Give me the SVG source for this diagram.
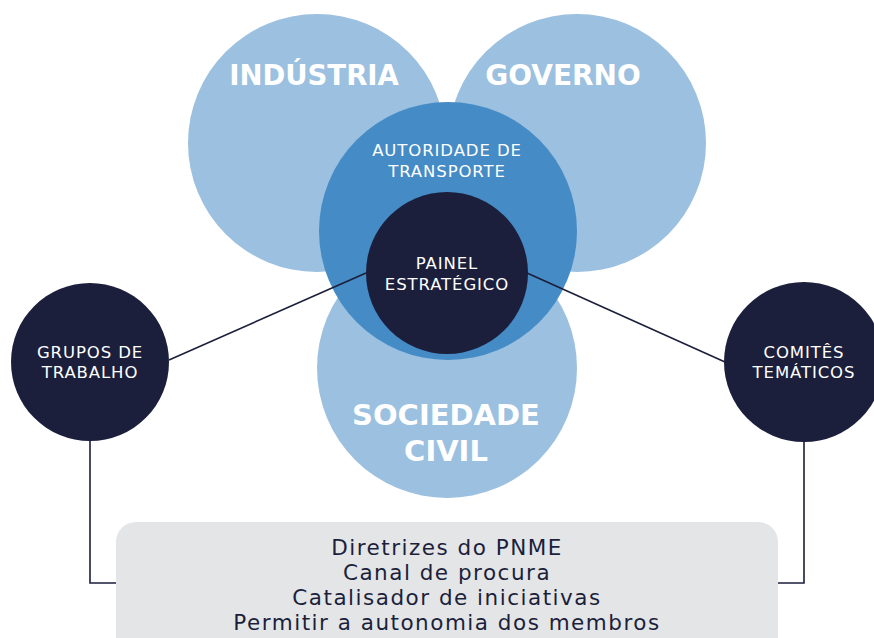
<svg xmlns="http://www.w3.org/2000/svg" width="874" height="638" viewBox="0 0 874 638">
<style>
.light{fill:#9bc0e0}
.mid{fill:#458bc6}
.dark{fill:#1b1f3b}
.h{font-family:"DejaVu Sans","Liberation Sans",sans-serif;font-weight:700;fill:#ffffff;text-anchor:middle}
.t{font-family:"DejaVu Sans","Liberation Sans",sans-serif;font-weight:400;fill:#ffffff;text-anchor:middle;font-size:16.5px;letter-spacing:0.9px}
.b{font-family:"DejaVu Sans","Liberation Sans",sans-serif;font-weight:400;fill:#1b1f3b;text-anchor:middle;font-size:21.5px;letter-spacing:1.5px}
.ln{stroke:#1b1f3b;stroke-width:1.6;fill:none}
</style>
<rect width="874" height="638" fill="#ffffff"/>
<g id="industria">
<circle class="light" cx="317" cy="143" r="129"/>
</g>
<g id="governo">
<circle class="light" cx="577" cy="143" r="129"/>
</g>
<g id="sociedade">
<circle class="light" cx="447" cy="368" r="130"/>
<text class="h" x="446" y="425" font-size="29">SOCIEDADE</text>
<text class="h" x="446" y="461" font-size="29">CIVIL</text>
</g>
<g id="industria-label">
<text class="h" x="314" y="85" font-size="27.5">INDÚSTRIA</text>
</g>
<g id="governo-label">
<text class="h" x="563" y="85" font-size="28">GOVERNO</text>
</g>
<g id="autoridade">
<circle class="mid" cx="448" cy="231" r="129"/>
<text class="t" x="447" y="156">AUTORIDADE DE</text>
<text class="t" x="447" y="177">TRANSPORTE</text>
</g>
<g id="connectors">
<line class="ln" x1="169" y1="360" x2="366" y2="273"/>
<line class="ln" x1="527" y1="273" x2="725" y2="362"/>
<polyline class="ln" points="90,441 90,583 117,583"/>
<polyline class="ln" points="804,441 804,583 777,583"/>
</g>
<g id="painel">
<circle class="dark" cx="447" cy="273" r="81"/>
<text class="t" x="447" y="269">PAINEL</text>
<text class="t" x="447" y="290">ESTRATÉGICO</text>
</g>
<g id="grupos">
<circle class="dark" cx="90" cy="362" r="79"/>
<text class="t" x="90" y="358">GRUPOS DE</text>
<text class="t" x="90" y="378">TRABALHO</text>
</g>
<g id="comites">
<circle class="dark" cx="804" cy="362" r="80"/>
<text class="t" x="804" y="358">COMITÊS</text>
<text class="t" x="804" y="378">TEMÁTICOS</text>
</g>
<g id="box">
<rect x="116" y="522" width="662" height="140" rx="20" fill="#e4e5e7"/>
<text class="b" x="447" y="555">Diretrizes do PNME</text>
<text class="b" x="447" y="580">Canal de procura</text>
<text class="b" x="447" y="605">Catalisador de iniciativas</text>
<text class="b" x="447" y="630">Permitir a autonomia dos membros</text>
</g>
</svg>
